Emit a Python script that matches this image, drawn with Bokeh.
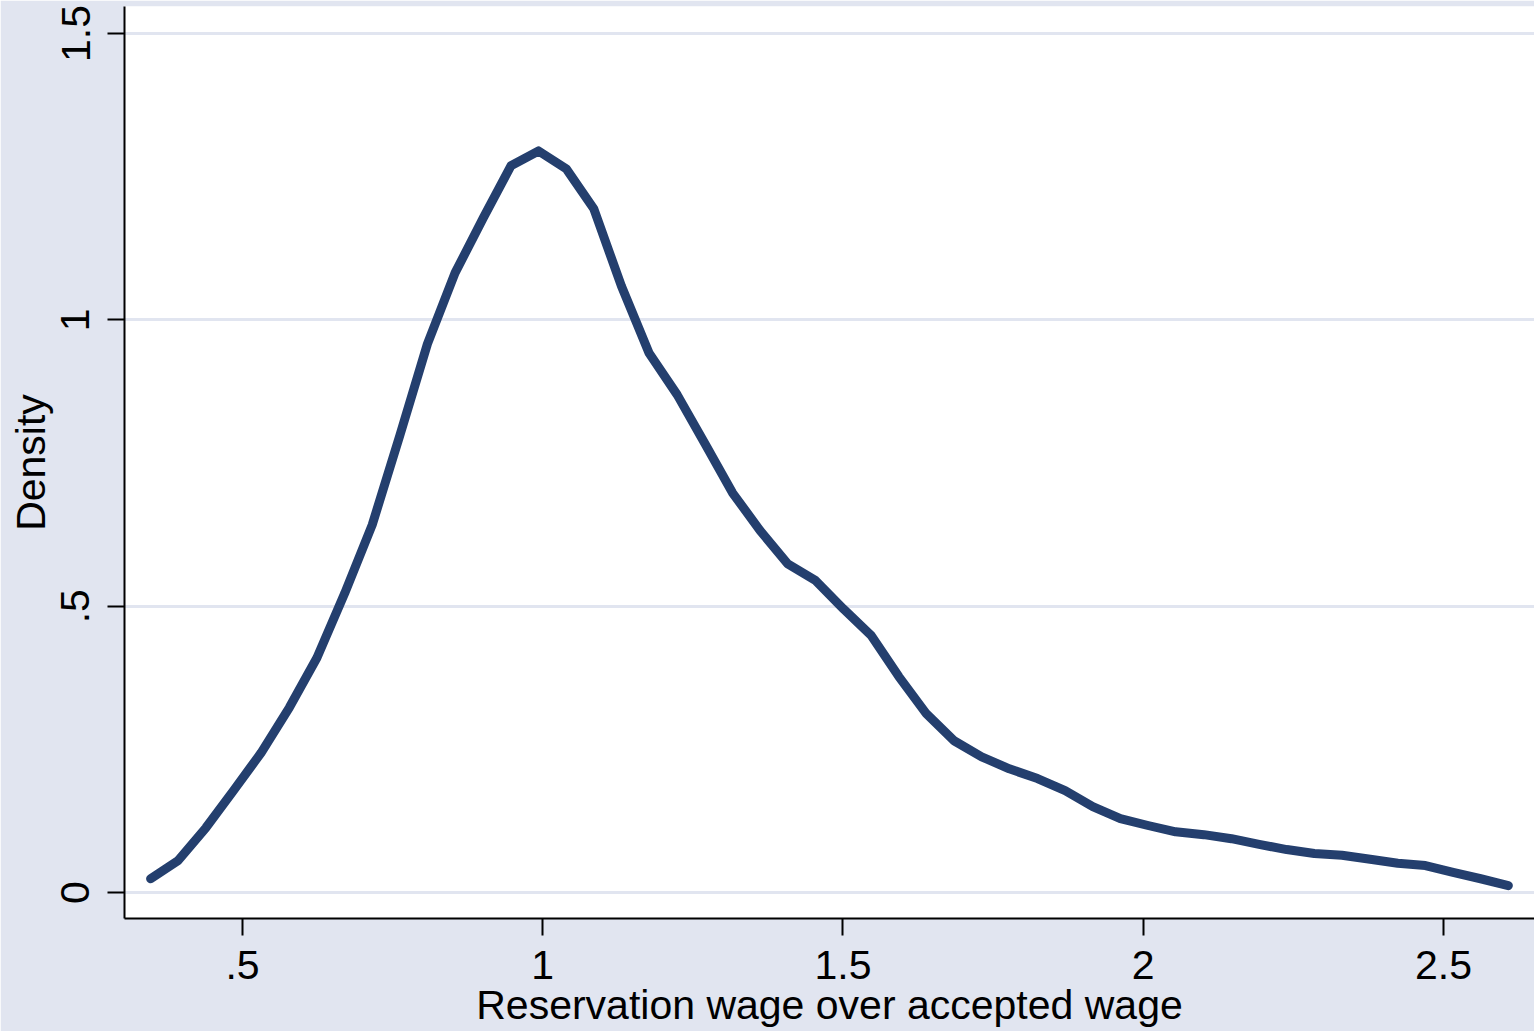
from bokeh.plotting import figure
from bokeh.models import Range1d, FixedTicker
from bokeh.embed import file_html
from bokeh.resources import INLINE

# Kernel density estimate of the reservation / accepted wage ratio (50 grid points)
ratio = [0.347, 0.393, 0.439, 0.485, 0.531, 0.578, 0.624, 0.670, 0.716, 0.762,
         0.808, 0.854, 0.901, 0.947, 0.993, 1.039, 1.085, 1.131, 1.177, 1.224,
         1.270, 1.316, 1.362, 1.408, 1.454, 1.501, 1.547, 1.593, 1.639, 1.685,
         1.731, 1.777, 1.824, 1.870, 1.916, 1.962, 2.008, 2.054, 2.101, 2.147,
         2.193, 2.239, 2.285, 2.331, 2.378, 2.424, 2.470, 2.516, 2.562, 2.608]
density = [0.024, 0.056, 0.113, 0.178, 0.244, 0.323, 0.410, 0.522, 0.642, 0.798,
           0.958, 1.082, 1.178, 1.269, 1.295, 1.264, 1.194, 1.059, 0.942, 0.869,
           0.784, 0.698, 0.632, 0.574, 0.545, 0.495, 0.449, 0.377, 0.312, 0.265,
           0.237, 0.216, 0.199, 0.178, 0.150, 0.129, 0.117, 0.106, 0.101, 0.094,
           0.084, 0.075, 0.068, 0.065, 0.058, 0.051, 0.047, 0.035, 0.024, 0.012]

x_ticks = [0.5, 1.0, 1.5, 2.0, 2.5]
x_tick_labels = [".5", "1", "1.5", "2", "2.5"]
y_ticks = [0.0, 0.5, 1.0, 1.5]
y_tick_labels = ["0", ".5", "1", "1.5"]

BG = "#E1E5F0"
GRID = "#E1E5F0"
NAVY = "#243F6E"
FONT = "Liberation Sans"
FS = "41px"

p = figure(width=1534, height=1031,
           x_range=Range1d(0.3035, 2.6516), y_range=Range1d(-0.0454, 1.5472),
           output_backend="svg", toolbar_location=None,
           min_border_left=124, min_border_right=0,
           min_border_top=6, min_border_bottom=113)

p.background_fill_color = "white"
p.border_fill_color = BG
p.outline_line_color = None

p.line(ratio, density, line_color=NAVY, line_width=9,
       line_cap="round", line_join="round")

# x axis
xa = p.xaxis[0]
xa.ticker = FixedTicker(ticks=x_ticks)
xa.major_label_overrides = {t: l for t, l in zip(x_ticks, x_tick_labels)}
xa.axis_label = "Reservation wage over accepted wage"

# y axis
ya = p.yaxis[0]
ya.ticker = FixedTicker(ticks=y_ticks)
ya.major_label_overrides = {t: l for t, l in zip(y_ticks, y_tick_labels)}
ya.axis_label = "Density"
ya.major_label_orientation = "vertical"

for ax in (xa, ya):
    ax.axis_line_color = "black"
    ax.axis_line_width = 2
    ax.major_tick_line_color = "black"
    ax.major_tick_line_width = 2
    ax.major_tick_in = 0
    ax.major_tick_out = 17
    ax.minor_tick_line_color = None
    ax.major_label_text_font = FONT
    ax.major_label_text_font_size = FS
    ax.major_label_text_color = "black"
    ax.axis_label_text_font = FONT
    ax.axis_label_text_font_size = FS
    ax.axis_label_text_font_style = "normal"
    ax.axis_label_text_color = "black"

xa.major_label_standoff = 15
xa.axis_label_standoff = 0
ya.major_label_standoff = 18
ya.axis_label_standoff = 5

p.xgrid.grid_line_color = None
p.ygrid.ticker = FixedTicker(ticks=y_ticks)
p.ygrid.grid_line_color = GRID
p.ygrid.grid_line_width = 3

open("out.html", "w").write(file_html(p, INLINE))
